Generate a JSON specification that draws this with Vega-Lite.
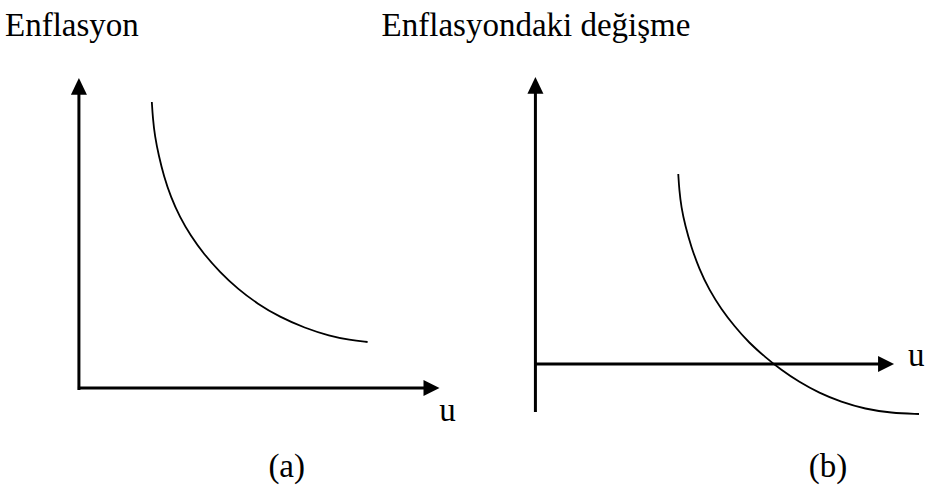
{
  "$schema": "https://vega.github.io/schema/vega-lite/v6.json",
  "width": 925,
  "height": 485,
  "padding": 0,
  "autosize": {"type": "fit", "contains": "padding"},
  "background": "white",
  "config": {"view": {"stroke": null}},
  "datasets": {
    "axes": [
      {"panel": "a", "x": 79, "x2": 79, "y": 94, "y2": 390},
      {"panel": "a", "x": 78, "x2": 425, "y": 388, "y2": 388},
      {"panel": "b", "x": 536, "x2": 536, "y": 90, "y2": 412},
      {"panel": "b", "x": 536, "x2": 880, "y": 364, "y2": 364}
    ],
    "curveA": [
      {"x": 152, "y": 102}, {"x": 153, "y": 118}, {"x": 155, "y": 136},
      {"x": 159, "y": 156}, {"x": 164, "y": 176}, {"x": 171, "y": 197},
      {"x": 180, "y": 217}, {"x": 191, "y": 236}, {"x": 204, "y": 254},
      {"x": 220, "y": 272}, {"x": 238, "y": 289}, {"x": 258, "y": 304},
      {"x": 280, "y": 317}, {"x": 305, "y": 328}, {"x": 330, "y": 336},
      {"x": 350, "y": 340}, {"x": 368, "y": 342}
    ],
    "curveB": [
      {"x": 679, "y": 174}, {"x": 680, "y": 190}, {"x": 682, "y": 207},
      {"x": 686, "y": 226}, {"x": 692, "y": 247}, {"x": 700, "y": 269},
      {"x": 710, "y": 290}, {"x": 722, "y": 309}, {"x": 735, "y": 326},
      {"x": 750, "y": 343}, {"x": 766, "y": 357}, {"x": 782, "y": 370},
      {"x": 800, "y": 382}, {"x": 820, "y": 393}, {"x": 842, "y": 402},
      {"x": 866, "y": 409}, {"x": 892, "y": 413}, {"x": 920, "y": 414}
    ],
    "arrowsUp": [
      {"x": 79, "y": 78},
      {"x": 536, "y": 77}
    ],
    "arrowsRight": [
      {"x": 440, "y": 388},
      {"x": 895, "y": 364}
    ],
    "titles": [
      {"x": 5, "y": 36, "label": "Enflasyon"},
      {"x": 382, "y": 36, "label": "Enflasyondaki değişme"},
      {"x": 909, "y": 366, "label": "u"}
    ],
    "labels": [
      {"x": 448, "y": 421, "label": "u"},
      {"x": 287, "y": 477, "label": "(a)"},
      {"x": 829, "y": 477, "label": "(b)"}
    ]
  },
  "encoding": {
    "x": {"field": "x", "type": "quantitative", "scale": {"domain": [0, 925], "nice": false, "zero": false}, "axis": null},
    "y": {"field": "y", "type": "quantitative", "scale": {"domain": [0, 485], "nice": false, "zero": false, "reverse": true}, "axis": null}
  },
  "layer": [
    {
      "data": {"name": "axes"},
      "mark": {"type": "rule", "color": "black", "strokeWidth": 3, "strokeCap": "butt"},
      "encoding": {"x2": {"field": "x2"}, "y2": {"field": "y2"}}
    },
    {
      "data": {"name": "curveA"},
      "mark": {"type": "line", "color": "black", "strokeWidth": 1.8, "interpolate": "basis"}
    },
    {
      "data": {"name": "curveB"},
      "mark": {"type": "line", "color": "black", "strokeWidth": 1.8, "interpolate": "basis"}
    },
    {
      "data": {"name": "arrowsUp"},
      "mark": {"type": "point", "shape": "M0,0L-1,2.1L1,2.1Z", "size": 256, "filled": true, "color": "black", "opacity": 1, "strokeWidth": 0}
    },
    {
      "data": {"name": "arrowsRight"},
      "mark": {"type": "point", "shape": "M0,0L-2,-1L-2,1Z", "size": 256, "filled": true, "color": "black", "opacity": 1, "strokeWidth": 0}
    },
    {
      "data": {"name": "titles"},
      "mark": {"type": "text", "align": "left", "baseline": "alphabetic", "font": "Liberation Serif", "fontSize": 33, "color": "black"},
      "encoding": {"text": {"field": "label"}}
    },
    {
      "data": {"name": "labels"},
      "mark": {"type": "text", "align": "center", "baseline": "alphabetic", "font": "Liberation Serif", "fontSize": 33, "color": "black"},
      "encoding": {"text": {"field": "label"}}
    }
  ]
}
